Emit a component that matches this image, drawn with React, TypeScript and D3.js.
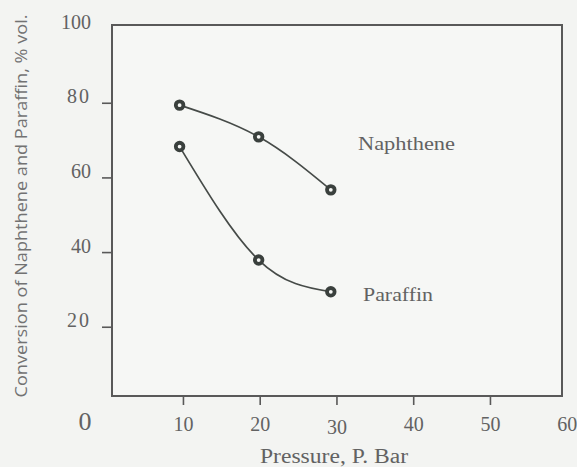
import React from "react";
import * as d3 from "d3";

const pressure = [9.5, 19.8, 29.2];
const naphthene = [79.5, 71.0, 56.8];
const paraffin = [68.4, 38.0, 29.5];
const xTicks = [10, 20, 30, 40, 50];
const xTickLabels = ["10", "20", "30", "40", "50", "60"];
const xLabelValues = [10, 20, 30, 40, 50, 60];
const yTicks = [20, 40, 60, 80];
const yLabelValues = [20, 40, 60, 80, 100];
const yTickLabels = ["20", "40", "60", "80", "100"];
const seriesNames = ["Naphthene", "Paraffin"];

const W = 577;
const H = 467;

export default function App() {
  const x = d3.scaleLinear().domain([0, 60]).range([106.7, 567.2]);
  const y = d3.scaleLinear().domain([0, 100]).range([401.9, 28.6]);
  const box = { left: 112, right: 562, top: 25, bottom: 396 };
  const line = d3
    .line<[number, number]>()
    .x((d) => x(d[0]))
    .y((d) => y(d[1]))
    .curve(d3.curveNatural);
  const series = [naphthene, paraffin];
  const ink = "#3a403d";
  const textCol = "#626262";
  const serif = "'Liberation Serif', 'Times New Roman', serif";
  const labelPos = [
    { x: 358, y: 150, len: 97 },
    { x: 363, y: 301, len: 70 },
  ];
  return (
    <svg
      width={W}
      height={H}
      style={{ position: "absolute", left: 0, top: 0, display: "block" }}
    >
      <rect x={0} y={0} width={W} height={H} fill="#f3f4f2" />
      <rect
        x={box.left}
        y={box.top}
        width={box.right - box.left}
        height={box.bottom - box.top}
        fill="#f6f7f5"
        stroke="#595959"
        strokeWidth={2}
      />
      {yTicks.map((t) => (
        <line
          key={"yt" + t}
          x1={box.left - 10}
          x2={box.left}
          y1={y(t)}
          y2={y(t)}
          stroke="#595959"
          strokeWidth={1.6}
        />
      ))}
      {xTicks.map((t) => (
        <line
          key={"xt" + t}
          x1={x(t)}
          x2={x(t)}
          y1={box.bottom}
          y2={box.bottom + 9}
          stroke="#595959"
          strokeWidth={1.6}
        />
      ))}
      {yLabelValues.map((v, i) => (
        <text
          key={"yl" + v}
          x={91}
          y={y(v)}
          textAnchor="end"
          fontFamily={serif}
          fontSize={20}
          fill={textCol}
          letterSpacing={v === 80 || v === 20 ? 2 : 0}
        >
          {yTickLabels[i]}
        </text>
      ))}
      <text
        x={85}
        y={430}
        textAnchor="middle"
        fontFamily={serif}
        fontSize={26}
        fill={textCol}
      >
        0
      </text>
      {xLabelValues.map((v, i) => (
        <text
          key={"xl" + v}
          x={x(v)}
          y={v === 30 ? 434 : 431}
          textAnchor="middle"
          fontFamily={serif}
          fontSize={20}
          fill={textCol}
        >
          {xTickLabels[i]}
        </text>
      ))}
      <text
        x={334}
        y={463}
        textAnchor="middle"
        fontFamily={serif}
        fontSize={20}
        fill={textCol}
        textLength={148}
        lengthAdjust="spacingAndGlyphs"
      >
        Pressure, P. Bar
      </text>
      <text
        transform="translate(27,206) rotate(-90)"
        textAnchor="middle"
        fontFamily="'Open Sans', 'Noto Sans', sans-serif"
        fontSize={17}
        fill="#727272"
        textLength={383}
        lengthAdjust="spacingAndGlyphs"
      >
        Conversion of Naphthene and  Paraffin, % vol.
      </text>
      {series.map((vals, si) => {
        const pts: [number, number][] = pressure.map((p, i) => [p, vals[i]]);
        return (
          <g key={"s" + si}>
            <path d={line(pts) || ""} fill="none" stroke="#464b48" strokeWidth={1.7} />
            {pts.map((p, i) => (
              <circle
                key={i}
                cx={x(p[0])}
                cy={y(p[1])}
                r={3.8}
                fill="#f6f7f5"
                stroke={ink}
                strokeWidth={3.8}
              />
            ))}
            <text
              x={labelPos[si].x}
              y={labelPos[si].y}
              fontFamily={serif}
              fontSize={19}
              fill={textCol}
              textLength={labelPos[si].len}
              lengthAdjust="spacingAndGlyphs"
            >
              {seriesNames[si]}
            </text>
          </g>
        );
      })}
    </svg>
  );
}
